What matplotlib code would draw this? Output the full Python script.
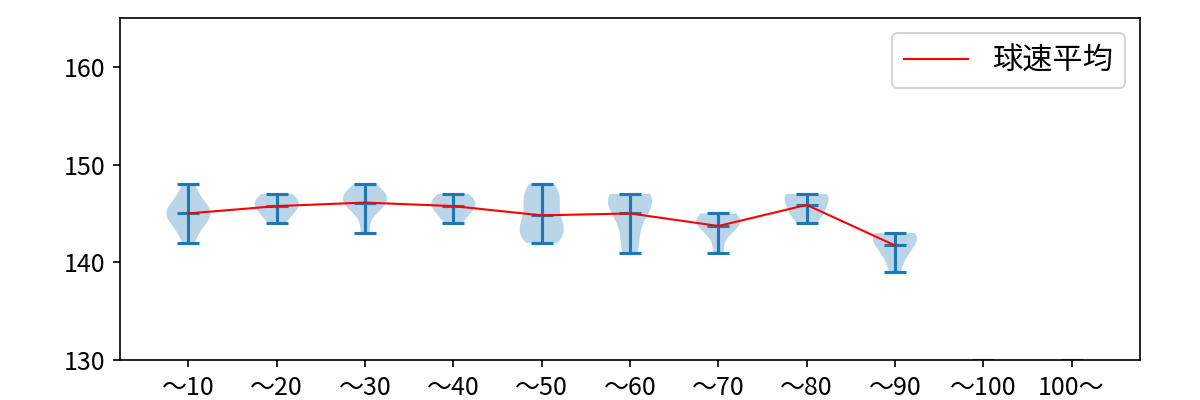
import numpy as np
import matplotlib
matplotlib.use("Agg")
import matplotlib.pyplot as plt

plt.rcParams['font.family'] = ['Noto Sans CJK JP', 'DejaVu Sans']

labels = ["〜10", "〜20", "〜30", "〜40", "〜50", "〜60", "〜70", "〜80", "〜90", "〜100", "100〜"]

v10 = [142, 143, 144, 144, 145, 145, 145, 145, 146, 146, 147, 148]
v20 = [144, 145, 145, 146, 146, 146, 147, 147]
v30 = [143, 145, 146, 146, 146, 147, 147, 147, 148]
v40 = [144, 145, 145, 146, 146, 146, 147, 147]
v50 = [142, 143, 143, 143, 144, 145, 146, 147, 147, 148]
v60 = [141, 142, 144, 145, 146, 146, 147, 147, 147]
v70 = [141, 143, 144, 144, 144, 145, 145]
v80 = [144, 145, 145, 146, 146, 147, 147, 147]
v90 = [139, 140, 141, 141, 142, 142, 142, 143, 143, 143, 143]
v100 = [129, 130]
v100p = [129, 130]

data = [v10, v20, v30, v40, v50, v60, v70, v80, v90, v100, v100p]
n_real = 9

fig = plt.figure(figsize=(8, 8 / 3), dpi=150)
ax = fig.add_axes([0.1, 0.1, 0.85, 0.855])

positions = list(range(1, len(data) + 1))
ax.violinplot(data, positions=positions, showmeans=True)

means = [np.mean(d) for d in data[:n_real]]
ax.plot(positions[:n_real], means, color='red', linewidth=1, label='球速平均')

ax.set_ylim(130, 165)
ax.set_yticks([130, 140, 150, 160])
ax.set_xticks(positions)
ax.set_xticklabels(labels)
ax.tick_params(labelsize=12)
ax.legend(loc='upper right', fontsize=14.5, handlelength=2.1)

fig.savefig("out.png", dpi=150)
